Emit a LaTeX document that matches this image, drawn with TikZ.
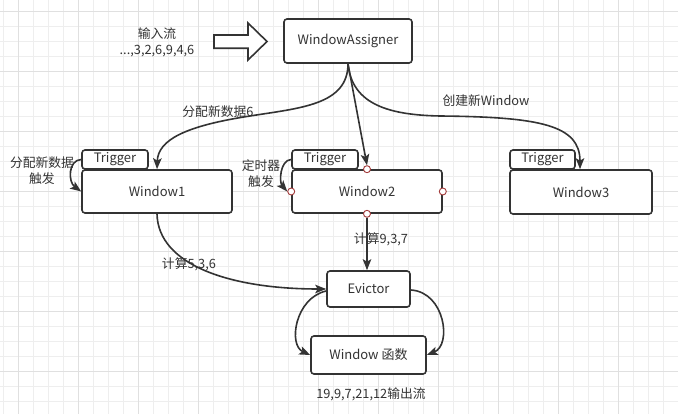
\documentclass[tikz,border=0pt]{standalone}
\usepackage{fontspec}
\setmainfont{Noto Sans CJK SC}
\usetikzlibrary{arrows.meta}
\definecolor{ink}{HTML}{333333}
\definecolor{gridminor}{HTML}{EEEEEE}
\definecolor{gridmajor}{HTML}{E0E0E0}
\definecolor{portred}{HTML}{A33A3A}
\begin{document}
\begin{tikzpicture}[x=1pt,y=-1pt,
  box/.style={draw=ink,line width=1.6pt,rounded corners=3pt,fill=white,text=ink,inner sep=0pt,font=\fontsize{13}{15}\selectfont},
  lbl/.style={text=ink,inner sep=0pt,align=center,font=\fontsize{12.8}{16}\selectfont},
  conn/.style={draw=ink,line width=1.6pt,-{Stealth[length=11pt,width=8.5pt,inset=2.5pt]}},
  port/.style={circle,draw=portred,fill=white,line width=0.9pt,minimum size=7pt,inner sep=0pt},
  bigarrow/.style={draw=ink,line width=1.6pt,fill=white,line join=miter}]
\useasboundingbox (0,0) rectangle (678,414);
\fill[white] (0,0) rectangle (678,414);
\begin{scope}
\clip (0,0) rectangle (678,414);
\foreach \x in {3.3,18.3,...,678} \draw[gridminor,line width=1pt] (\x,0) -- (\x,414);
\foreach \y in {11.7,26.7,...,414} \draw[gridminor,line width=1pt] (0,\y) -- (678,\y);
\foreach \x in {18.3,78.3,...,678} \draw[gridmajor,line width=1pt] (\x,0) -- (\x,414);
\foreach \y in {11.7,71.7,...,414} \draw[gridmajor,line width=1pt] (0,\y) -- (678,\y);
\end{scope}

% input arrow
\draw[bigarrow] (214,35) -- (248,35) -- (248,23) -- (267,41.5) -- (248,60) -- (248,48.3) -- (214,48.3) -- cycle;
\node[lbl] (input) at (157,42.5) {输入流\\...,3,2,6,9,4,6};

% boxes
\node[box,minimum width=128pt,minimum height=44pt] (wa) at (348,41) {WindowAssigner};
\node[box,minimum width=66pt,minimum height=19pt] (t1) at (115,159.5) {Trigger};
\node[box,minimum width=66pt,minimum height=19pt] (t2) at (325,159.5) {Trigger};
\node[box,minimum width=65pt,minimum height=19pt] (t3) at (542.5,159.5) {Trigger};
\node[box,minimum width=150pt,minimum height=43pt] (w1) at (157,191.5) {Window1};
\node[box,minimum width=150pt,minimum height=43pt] (w2) at (367,191.5) {Window2};
\node[box,minimum width=142pt,minimum height=44pt] (w3) at (581,192) {Window3};
\node[box,minimum width=83pt,minimum height=36pt] (ev) at (368.5,289) {Evictor};
\node[box,minimum width=115pt,minimum height=38pt] (wf) at (368.5,355) {Window 函数};

% ports on Window2
\node[port] (p2t) at (w2.north) {};
\node[port] (p2l) at (w2.west) {};
\node[port] (p2r) at (w2.east) {};
\node[port] (p2b) at (w2.south) {};

% connectors
\draw[conn] (wa.south) .. controls (348,105) and (300,108) .. (250,116) .. controls (185,126) and (158,140) .. (w1.north);
\draw[conn] (wa.south) -- (p2t.north);
\draw[conn] (wa.south) .. controls (352,105) and (390,115) .. (440,116) .. controls (540,117) and (580,125) .. ([xshift=-1pt]w3.north);
\draw[conn] (w1.south) .. controls (158,265) and (230,289) .. (ev.west);
\draw[conn] (p2b.south) -- (p2b.south |- ev.north);
\draw[conn] (t1.west) .. controls (68,160) and (68,182) .. (w1.west);
\draw[conn] (t2.west) .. controls (280,160) and (279,182) .. (p2l.west);
\draw[conn] ([yshift=-2pt]ev.west) .. controls (295,298) and (288,345) .. (wf.west);
\draw[conn] ([yshift=-1pt]ev.east) .. controls (445,292) and (452,345) .. (wf.east);

% labels
\node[lbl] (l1) at (218,112) {分配新数据6};
\node[lbl] (l2) at (486,101) {创建新Window};
\node[lbl] (l3) at (42,171) {分配新数据\\触发};
\node[lbl] (l4) at (261,174) {定时器\\触发};
\node[lbl] (l5) at (381,239) {计算9,3,7};
\node[lbl] (l6) at (189,264) {计算5,3,6};
\node[lbl] (l7) at (371,394) {19,9,7,21,12输出流};
\end{tikzpicture}
\end{document}
